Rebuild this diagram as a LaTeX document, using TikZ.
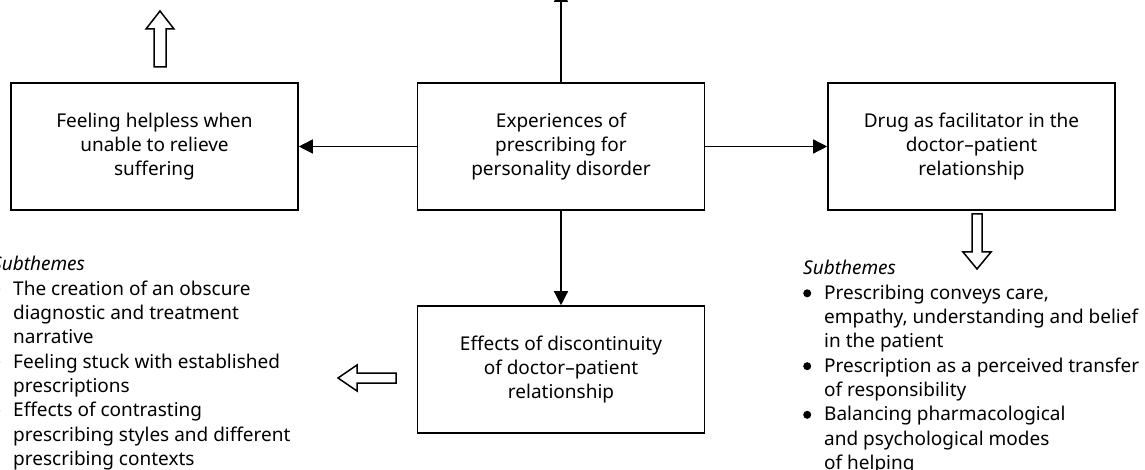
\documentclass[tikz,border=0pt]{standalone}
\usepackage{fontspec}
\setmainfont{Noto Sans}
\usetikzlibrary{arrows.meta}
\tikzset{
  box/.style={draw,line width=1.6pt,minimum width=287pt,minimum height=127pt,
    align=center,font=\fontsize{19}{24}\selectfont,inner sep=0pt},
  conn/.style={line width=1.4pt,-{Triangle[length=14pt,width=14pt]}},
  hollow/.style={draw,line width=1.5pt,fill=white,line join=miter},
  sublist/.style={anchor=base west,inner sep=0pt,font=\fontsize{19}{24.3}\selectfont}
}
\newcommand{\bul}{\makebox[21pt][l]{\tikz[baseline=0pt]\fill (4pt,6pt) circle[radius=4pt];}}
\newcommand{\ind}{\hspace*{21pt}}
\begin{document}
\begin{tikzpicture}[x=1pt,y=-1pt]
\useasboundingbox (0,0) rectangle (1145,470);
\node[box] (help) at (154.5,146.5) {Feeling helpless when\\unable to relieve\\suffering};
\node[box] (exp) at (561,146.5) {Experiences of\\prescribing for\\personality disorder};
\node[box] (drug) at (971.5,146.5) {Drug as facilitator in the\\doctor–patient\\relationship};
\node[box] (disc) at (561,369.5) {Effects of discontinuity\\of doctor–patient\\relationship};
\coordinate (topend) at (561,-12);
\draw[conn] (exp.north) -- (topend);
\draw[conn] (exp.west) -- (help.east);
\draw[conn] (exp.east) -- (drug.west);
\draw[conn] (exp.south -| disc.north) -- (disc.north);
% hollow arrows
\draw[hollow] (154,67) -- (154,29) -- (146,29) -- (160,11) -- (174,29) -- (166,29) -- (166,67) -- cycle;
\draw[hollow] (972,214) -- (972,252) -- (963,252) -- (977,269) -- (991,252) -- (982,252) -- (982,214) -- cycle;
\draw[hollow] (396,373) -- (357,373) -- (357,365) -- (338,378) -- (357,391) -- (357,383) -- (396,383) -- cycle;
\node[sublist] (leftlist) at (-8,271) {\begin{tabular}[t]{@{}l@{}}
\textit{Subthemes}\\
\bul The creation of an obscure\\
\ind diagnostic and treatment\\
\ind narrative\\
\bul Feeling stuck with established\\
\ind prescriptions\\
\bul Effects of contrasting\\
\ind prescribing styles and different\\
\ind prescribing contexts
\end{tabular}};
\node[sublist] (rightlist) at (803,275) {\begin{tabular}[t]{@{}l@{}}
\textit{Subthemes}\\
\bul Prescribing conveys care,\\
\ind empathy, understanding and belief\\
\ind in the patient\\
\bul Prescription as a perceived transfer\\
\ind of responsibility\\
\bul Balancing pharmacological\\
\ind and psychological modes\\
\ind of helping
\end{tabular}};
\end{tikzpicture}
\end{document}
